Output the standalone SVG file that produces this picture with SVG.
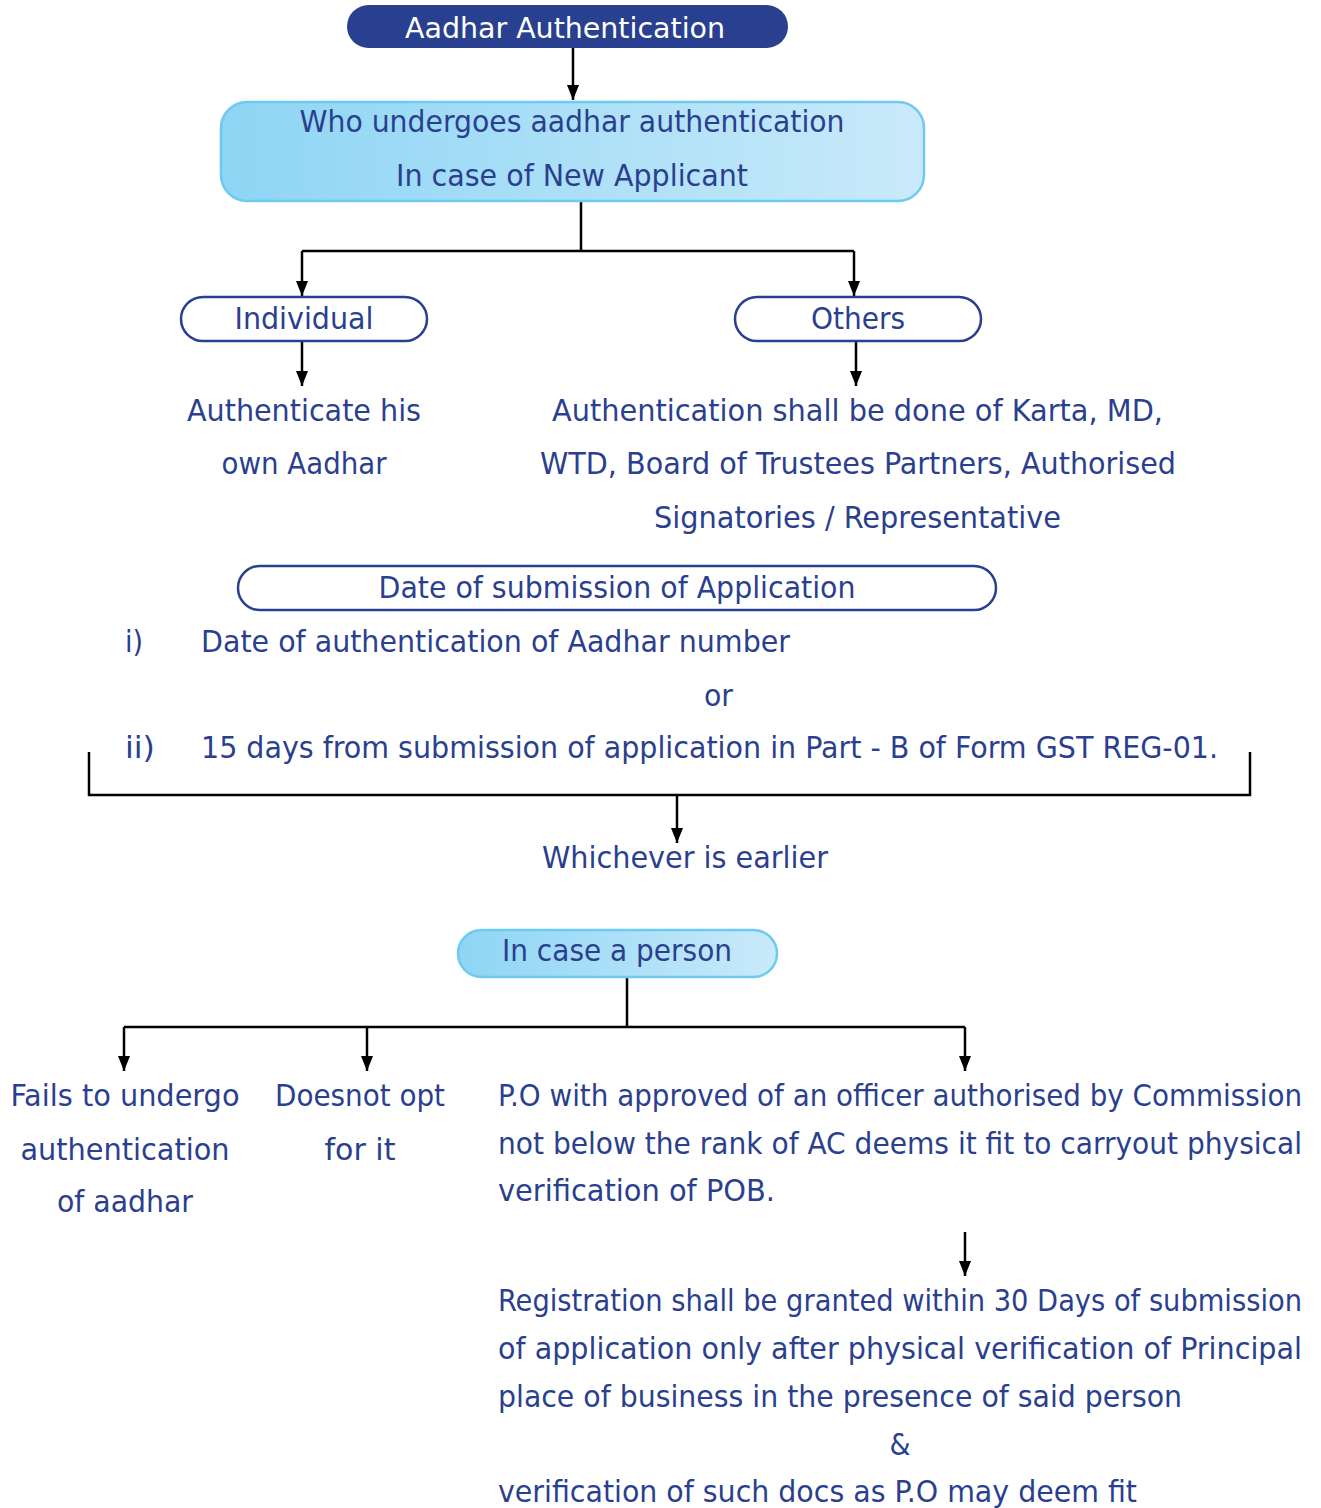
<svg xmlns="http://www.w3.org/2000/svg" width="1321" height="1508" viewBox="0 0 1321 1508">
<defs>
<linearGradient id="lb" x1="0" y1="0" x2="1" y2="0">
<stop offset="0" stop-color="#8ed5f4"/>
<stop offset="1" stop-color="#c9eafa"/>
</linearGradient>
<marker id="ah" viewBox="0 0 12 15" refX="6" refY="15" markerWidth="12" markerHeight="15" markerUnits="userSpaceOnUse">
<path d="M0,0 L12,0 L6,15 Z" fill="#000"/>
</marker>
</defs>
<style>
text{font-family:"DejaVu Sans Condensed","Liberation Sans",sans-serif;fill:#2b3f8f;font-size:30px}
.c{text-anchor:middle}
.w{fill:#fff;font-size:28px}
.ob{fill:#fff;stroke:#2b3f8f;stroke-width:2.5}
.lb{fill:url(#lb);stroke:#6ecaf0;stroke-width:2.5}
.ln{fill:none;stroke:#000;stroke-width:2.5}
.ar{fill:none;stroke:#000;stroke-width:2.5;marker-end:url(#ah)}
</style>
<rect width="1321" height="1508" fill="#fff"/>
<g id="connectors">
<path class="ar" d="M573,48 V100"/>
<path class="ln" d="M581,201 V251 M302,251 H854"/>
<path class="ar" d="M302,251 V296"/>
<path class="ar" d="M854,251 V296"/>
<path class="ar" d="M302,341 V386"/>
<path class="ar" d="M856,341 V386"/>
<path class="ln" d="M89,752 V795 H1250 V752"/>
<path class="ar" d="M677,795 V843"/>
<path class="ln" d="M627,977 V1027 M124,1027 H965"/>
<path class="ar" d="M124,1027 V1071"/>
<path class="ar" d="M367,1027 V1071"/>
<path class="ar" d="M965,1027 V1071"/>
<path class="ar" d="M965,1232 V1276"/>
</g>
<g id="n-aadhar">
<rect x="347" y="5" width="441" height="43" rx="21.5" fill="#28408f"/>
<text class="w c" x="565" y="38" textLength="320" lengthAdjust="spacingAndGlyphs">Aadhar Authentication</text>
</g>
<g id="n-who">
<rect class="lb" x="221" y="102" width="703" height="99" rx="26"/>
<text class="c" x="572" y="132" textLength="545" lengthAdjust="spacingAndGlyphs">Who undergoes aadhar authentication</text>
<text class="c" x="572" y="186" textLength="352" lengthAdjust="spacingAndGlyphs">In case of New Applicant</text>
</g>
<g id="n-individual">
<rect class="ob" x="181" y="297" width="246" height="44" rx="22"/>
<text class="c" x="304" y="329" textLength="139" lengthAdjust="spacingAndGlyphs">Individual</text>
</g>
<g id="n-others">
<rect class="ob" x="735" y="297" width="246" height="44" rx="22"/>
<text class="c" x="858" y="329" textLength="94" lengthAdjust="spacingAndGlyphs">Others</text>
</g>
<g id="n-auth-his">
<text class="c" x="304" y="421" textLength="234" lengthAdjust="spacingAndGlyphs">Authenticate his</text>
<text class="c" x="304" y="474" textLength="165" lengthAdjust="spacingAndGlyphs">own Aadhar</text>
</g>
<g id="n-auth-others">
<text x="552" y="421" textLength="611" lengthAdjust="spacingAndGlyphs">Authentication shall be done of Karta, MD,</text>
<text x="540" y="474" textLength="636" lengthAdjust="spacingAndGlyphs">WTD, Board of Trustees Partners, Authorised</text>
<text x="654" y="528" textLength="407" lengthAdjust="spacingAndGlyphs">Signatories / Representative</text>
</g>
<g id="n-date">
<rect class="ob" x="238" y="566" width="758" height="44" rx="22"/>
<text class="c" x="617" y="598" textLength="477" lengthAdjust="spacingAndGlyphs">Date of submission of Application</text>
</g>
<g id="n-options">
<text x="125" y="652">i)</text>
<text x="201" y="652" textLength="589" lengthAdjust="spacingAndGlyphs">Date of authentication of Aadhar number</text>
<text x="704" y="706" textLength="29" lengthAdjust="spacingAndGlyphs">or</text>
<text x="125" y="758" textLength="30" lengthAdjust="spacingAndGlyphs">ii)</text>
<text x="201" y="758" textLength="1017" lengthAdjust="spacingAndGlyphs">15 days from submission of application in Part - B of Form GST REG-01.</text>
</g>
<g id="n-whichever">
<text x="542" y="868" textLength="286" lengthAdjust="spacingAndGlyphs">Whichever is earlier</text>
</g>
<g id="n-person">
<rect class="lb" x="458" y="930" width="319" height="47" rx="23.5"/>
<text class="c" x="617" y="961" textLength="230" lengthAdjust="spacingAndGlyphs">In case a person</text>
</g>
<g id="n-fails">
<text class="c" x="125" y="1106" textLength="229" lengthAdjust="spacingAndGlyphs">Fails to undergo</text>
<text class="c" x="125" y="1160" textLength="209" lengthAdjust="spacingAndGlyphs">authentication</text>
<text class="c" x="125" y="1212" textLength="136" lengthAdjust="spacingAndGlyphs">of aadhar</text>
</g>
<g id="n-doesnot">
<text class="c" x="360" y="1106" textLength="170" lengthAdjust="spacingAndGlyphs">Doesnot opt</text>
<text class="c" x="360" y="1160" textLength="71" lengthAdjust="spacingAndGlyphs">for it</text>
</g>
<g id="n-po">
<text x="498" y="1106" textLength="804" lengthAdjust="spacingAndGlyphs">P.O with approved of an officer authorised by Commission</text>
<text x="498" y="1154" textLength="804" lengthAdjust="spacingAndGlyphs">not below the rank of AC deems it fit to carryout physical</text>
<text x="498" y="1201" textLength="277" lengthAdjust="spacingAndGlyphs">verification of POB.</text>
</g>
<g id="n-registration">
<text x="498" y="1311" textLength="804" lengthAdjust="spacingAndGlyphs">Registration shall be granted within 30 Days of submission</text>
<text x="498" y="1359" textLength="804" lengthAdjust="spacingAndGlyphs">of application only after physical verification of Principal</text>
<text x="498" y="1407" textLength="684" lengthAdjust="spacingAndGlyphs">place of business in the presence of said person</text>
<text class="c" x="900" y="1455">&amp;</text>
<text x="498" y="1502" textLength="639" lengthAdjust="spacingAndGlyphs">verification of such docs as P.O may deem fit</text>
</g>
</svg>
